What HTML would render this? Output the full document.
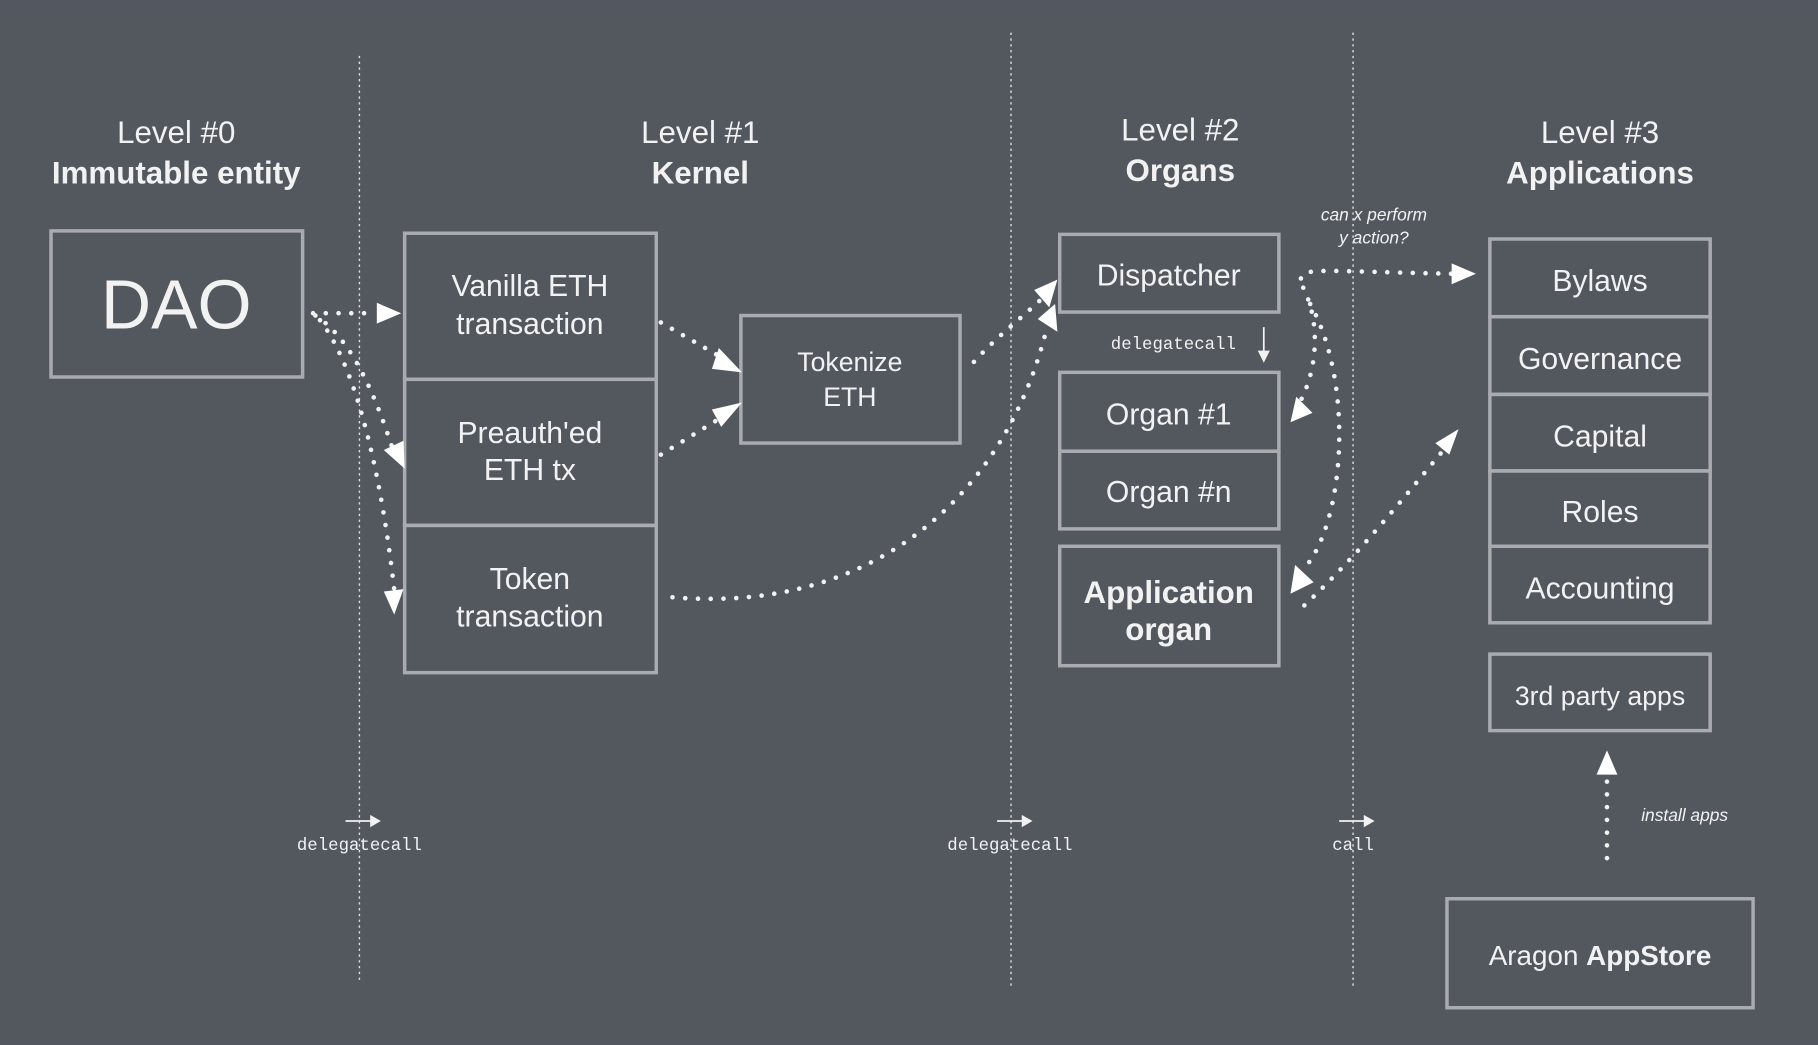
<!DOCTYPE html>
<html><head><meta charset="utf-8"><style>
html,body{margin:0;padding:0;background:#53575e;}
svg{display:block}
text{font-family:"Liberation Sans",sans-serif;fill:#f2f2f2}
.m{font-family:"Liberation Mono",monospace;font-size:15px}
.b{font-weight:bold}
</style></head><body>
<svg width="1818" height="1045" viewBox="0 0 1568 901" xmlns="http://www.w3.org/2000/svg">
<rect width="1568" height="901" fill="#53575e"/>
<g stroke="#e0e0e0" stroke-width="1.2" stroke-dasharray="2 3">
<line x1="310" y1="48" x2="310" y2="845"/>
<line x1="872" y1="28" x2="872" y2="850"/>
<line x1="1167" y1="28" x2="1167" y2="850"/>
</g>
<g fill="none" stroke="#a9abaf" stroke-width="3">
<rect x="44" y="199" width="217" height="126"/>
<rect x="349" y="201" width="217" height="126"/>
<rect x="349" y="327" width="217" height="126"/>
<rect x="349" y="453" width="217" height="127"/>
<rect x="639" y="272" width="189" height="110"/>
<rect x="914" y="202" width="189" height="67"/>
<rect x="914" y="321" width="189" height="68"/>
<rect x="914" y="389" width="189" height="67"/>
<rect x="914" y="471" width="189" height="103"/>
<rect x="1285" y="206" width="190" height="67"/>
<rect x="1285" y="273" width="190" height="67"/>
<rect x="1285" y="340" width="190" height="66"/>
<rect x="1285" y="406" width="190" height="65"/>
<rect x="1285" y="471" width="190" height="66"/>
<rect x="1285" y="564" width="190" height="66"/>
<rect x="1248" y="775" width="264" height="94"/>
</g>
<g text-anchor="middle" font-size="27">
<text x="152" y="123">Level #0</text><text x="152" y="158" class="b">Immutable entity</text>
<text x="604" y="123">Level #1</text><text x="604" y="158" class="b">Kernel</text>
<text x="1018" y="121">Level #2</text><text x="1018" y="156" class="b">Organs</text>
<text x="1380" y="123">Level #3</text><text x="1380" y="158" class="b">Applications</text>
<text x="152" y="283" font-size="60">DAO</text>
<text x="457" y="255" font-size="26">Vanilla ETH</text><text x="457" y="288" font-size="26">transaction</text>
<text x="457" y="382" font-size="26">Preauth'ed</text><text x="457" y="414" font-size="26">ETH tx</text>
<text x="457" y="508" font-size="26">Token</text><text x="457" y="540" font-size="26">transaction</text>
<text x="733" y="320" font-size="23">Tokenize</text><text x="733" y="350" font-size="23">ETH</text>
<text x="1008" y="246" font-size="26">Dispatcher</text>
<text x="1008" y="366" font-size="26">Organ #1</text>
<text x="1008" y="433" font-size="26">Organ #n</text>
<text x="1008" y="520" font-size="27" class="b">Application</text><text x="1008" y="552" font-size="27" class="b">organ</text>
<text x="1380" y="251" font-size="26">Bylaws</text>
<text x="1380" y="318" font-size="26">Governance</text>
<text x="1380" y="385" font-size="26">Capital</text>
<text x="1380" y="450" font-size="26">Roles</text>
<text x="1380" y="516" font-size="26">Accounting</text>
<text x="1380" y="608" font-size="23">3rd party apps</text>
<text x="1380" y="832" font-size="24">Aragon <tspan class="b">AppStore</tspan></text>
<text x="1185" y="190" font-size="15" font-style="italic">can x perform</text>
<text x="1185" y="210" font-size="15" font-style="italic">y action?</text>
<text x="1453" y="708" font-size="15" font-style="italic">install apps</text>
<text x="1012" y="301" class="m">delegatecall</text>
<text x="310" y="733" class="m">delegatecall</text>
<text x="871" y="733" class="m">delegatecall</text>
<text x="1167" y="733" class="m">call</text>
</g>
<g stroke="#f2f2f2" stroke-width="1.5" fill="#f2f2f2">
<line x1="298" y1="708" x2="322" y2="708"/><path d="M320 704 L327 708 L320 712Z"/>
<line x1="860" y1="708" x2="884" y2="708"/><path d="M882 704 L889 708 L882 712Z"/>
<line x1="1155" y1="708" x2="1179" y2="708"/><path d="M1177 704 L1184 708 L1177 712Z"/>
<line x1="1090" y1="282" x2="1090" y2="305"/><path d="M1086 303 L1090 311 L1094 303Z"/>
</g>
<g fill="none" stroke="#f2f2f2" stroke-width="4" stroke-linecap="round" stroke-dasharray="0 11">
<path d="M270 270 L322 270"/>
<path d="M272 272 C300 290 320 330 338 385"/>
<path d="M276 276 C310 320 330 420 340 508"/>
<path d="M570 278 L622 308"/>
<path d="M570 392 L622 360"/>
<path d="M840 312 C860 290 880 275 898 258"/>
<path d="M580 515 C760 530 870 420 903 282"/>
<path d="M1122 240 C1125 230 1140 234 1255 236"/>
<path d="M1124 248 C1140 280 1135 320 1122 345"/>
<path d="M1130 262 C1168 330 1160 450 1125 490"/>
<path d="M1125 522 C1170 480 1210 430 1245 388"/>
<path d="M1386 740 L1386 672"/>
</g>
<g fill="#fff">
<path d="M325 261 L346 270 L325 279Z"/>
<path d="M331 388 L349 404 L348 380Z"/>
<path d="M331 510 L340 530 L348 508Z"/>
<path d="M620 300 L640 321 L614 318Z"/>
<path d="M614 353 L640 347 L622 368Z"/>
<path d="M892 250 L912 241 L905 265Z"/>
<path d="M895 275 L910 262 L912 286Z"/>
<path d="M1252 227 L1273 236 L1252 245Z"/>
<path d="M1118 342 L1132 356 L1113 364Z"/>
<path d="M1117 487 L1133 502 L1113 512Z"/>
<path d="M1238 382 L1258 370 L1250 392Z"/>
<path d="M1377 668 L1386 647 L1395 668Z"/>
</g>
</svg>
</body></html>
